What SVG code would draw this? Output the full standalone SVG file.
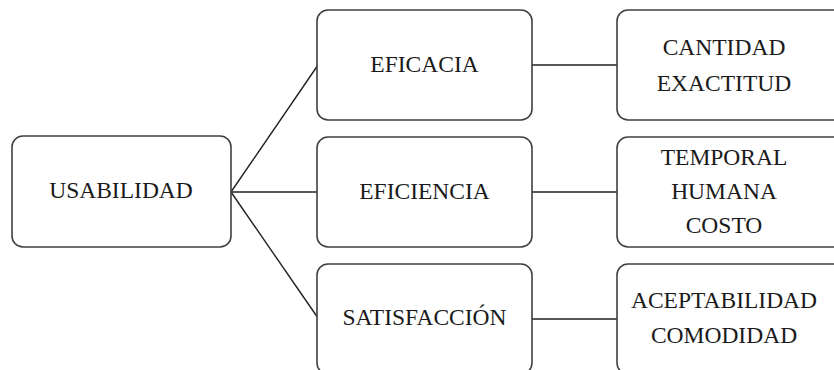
<svg xmlns="http://www.w3.org/2000/svg" width="834" height="370" viewBox="0 0 834 370">
<style>
.box{fill:#fff;stroke:#404040;stroke-width:1.6}
.t{font-family:'Liberation Serif','Times New Roman',serif;font-size:23.5px;fill:#1a1a1a;text-anchor:middle}
.c{stroke:#202020;stroke-width:1.4;fill:none}
</style>
<rect width="834" height="370" fill="#fff"/>
<g id="connectors">
<line class="c" x1="231" y1="192" x2="318" y2="65"/>
<line class="c" x1="231" y1="192" x2="318" y2="192"/>
<line class="c" x1="231" y1="192" x2="318" y2="318"/>
<line class="c" x1="532" y1="65" x2="617" y2="65"/>
<line class="c" x1="532" y1="192" x2="617" y2="192"/>
<line class="c" x1="532" y1="319" x2="617" y2="319"/>
</g>
<g id="usabilidad">
<rect class="box" x="12" y="136" width="219" height="111" rx="11"/>
<text class="t" x="121" y="198">USABILIDAD</text>
</g>
<g id="eficacia">
<rect class="box" x="317" y="10" width="215" height="110" rx="11"/>
<text class="t" x="424.5" y="71.5">EFICACIA</text>
</g>
<g id="eficiencia">
<rect class="box" x="317" y="137" width="215" height="110" rx="11"/>
<text class="t" x="424.5" y="199">EFICIENCIA</text>
</g>
<g id="satisfaccion">
<rect class="box" x="317" y="264" width="215" height="110" rx="11"/>
<text class="t" x="424.5" y="325">SATISFACCIÓN</text>
</g>
<g id="eficacia-detalle">
<rect class="box" x="617" y="10" width="230" height="110" rx="11"/>
<text class="t" x="724" y="55">CANTIDAD</text>
<text class="t" x="724" y="90.5">EXACTITUD</text>
</g>
<g id="eficiencia-detalle">
<rect class="box" x="617" y="137" width="230" height="110" rx="11"/>
<text class="t" x="724" y="165">TEMPORAL</text>
<text class="t" x="724" y="199">HUMANA</text>
<text class="t" x="724" y="233">COSTO</text>
</g>
<g id="satisfaccion-detalle">
<rect class="box" x="617" y="264" width="230" height="110" rx="11"/>
<text class="t" x="724" y="308">ACEPTABILIDAD</text>
<text class="t" x="724" y="343">COMODIDAD</text>
</g>
</svg>
